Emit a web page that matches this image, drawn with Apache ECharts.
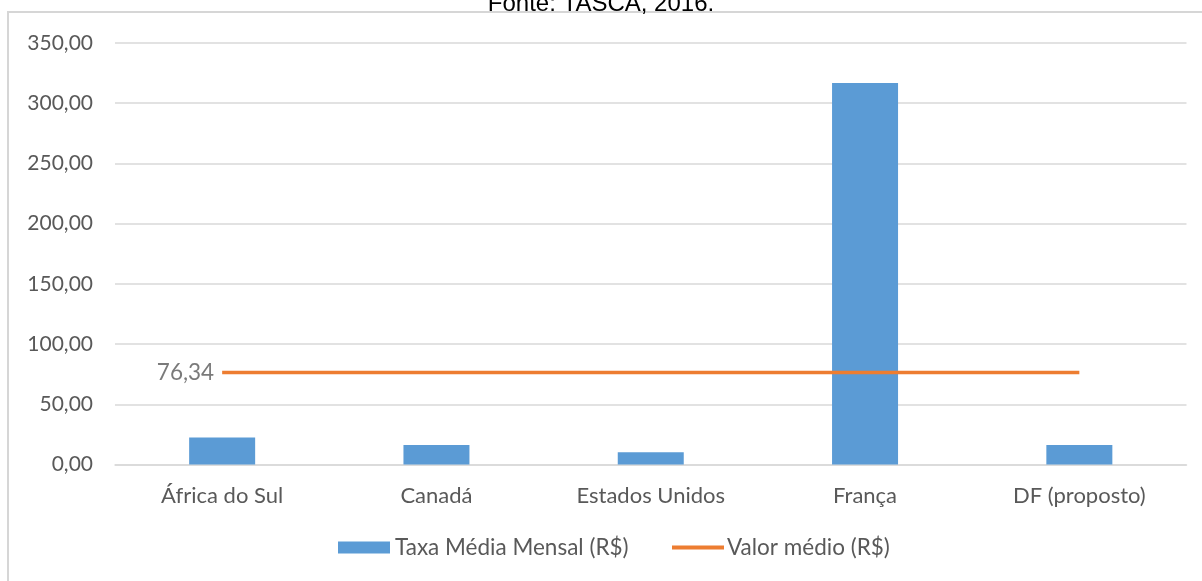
<!DOCTYPE html>
<html>
<head>
<meta charset="utf-8">
<script src="https://cdn.jsdelivr.net/npm/echarts@6/dist/echarts.min.js"></script>
<style>
  html, body { margin: 0; padding: 0; background: #ffffff; }
  #chart { width: 1202px; height: 581px; }
</style>
</head>
<body>
<div id="chart"></div>
<script>
// Monthly fee by country (R$) and the overall mean value
const categories = ['África do Sul', 'Canadá', 'Estados Unidos', 'França', 'DF (proposto)'];
const taxaMedia = [22.5, 16.2, 10.1, 316.7, 16.2];
const valorMedio = [76.34, 76.34, 76.34, 76.34, 76.34];
const yTicks = [0, 50, 100, 150, 200, 250, 300, 350];

const fmt = v => v.toFixed(2).replace('.', ',');
const labelFont = 'Lato, "Open Sans", sans-serif';
const textColor = '#595959';
const barColor = '#5B9BD5';
const lineColor = '#ED7D31';

const chart = echarts.init(document.getElementById('chart'), null, { renderer: 'canvas' });

chart.setOption({
  animation: false,
  backgroundColor: '#ffffff',
  graphic: [
    {
      type: 'rect',
      shape: { x: 8, y: 12, width: 1210, height: 600 },
      style: { fill: 'none', stroke: '#d6d6d6', lineWidth: 2 },
      z: 0
    },
    {
      type: 'text',
      left: 'center',
      top: -8,
      style: {
        text: 'Fonte: TASCA, 2016.',
        font: '24px "Liberation Sans", Arial, sans-serif',
        fill: '#000000'
      }
    }
  ],
  grid: { left: 115, right: 15.5, top: 43, bottom: 116.5, containLabel: false },
  legend: [
    {
      bottom: 17,
      left: 333,
      itemWidth: 52,
      itemHeight: 12,
      textStyle: { color: textColor, fontSize: 22.5, fontFamily: labelFont },
      data: [{ name: 'Taxa Média Mensal (R$)', icon: 'rect' }]
    },
    {
      bottom: 17,
      left: 667,
      itemWidth: 52,
      itemHeight: 4,
      textStyle: { color: textColor, fontSize: 22.5, fontFamily: labelFont, padding: [0, 0, 0, -2] },
      data: [{ name: 'Valor médio (R$)', icon: 'rect' }]
    }
  ],
  xAxis: {
    type: 'category',
    data: categories,
    boundaryGap: true,
    axisLine: { show: true, lineStyle: { color: '#d9d9d9', width: 1.5 } },
    axisTick: { show: false },
    axisLabel: { color: textColor, fontSize: 22, fontFamily: labelFont, margin: 20 }
  },
  yAxis: {
    type: 'value',
    min: yTicks[0],
    max: yTicks[yTicks.length - 1],
    interval: 50,
    axisLine: { show: false },
    axisTick: { show: false },
    splitLine: { lineStyle: { color: '#d9d9d9', width: 1.5 } },
    axisLabel: { color: textColor, fontSize: 21, fontFamily: labelFont, margin: 22, formatter: v => fmt(v) }
  },
  series: [
    {
      name: 'Taxa Média Mensal (R$)',
      type: 'bar',
      data: taxaMedia,
      barWidth: 66,
      itemStyle: { color: barColor },
      z: 2
    },
    {
      name: 'Valor médio (R$)',
      type: 'line',
      data: valorMedio,
      symbol: 'none',
      lineStyle: { color: lineColor, width: 3.5 },
      itemStyle: { color: lineColor },
      z: 3
    },
    {
      // value label for the mean line, anchored at its first point
      type: 'scatter',
      data: [[0, valorMedio[0]]],
      symbolSize: 0,
      silent: true,
      label: {
        show: true,
        position: 'left',
        distance: 8,
        formatter: p => fmt(p.value[1]),
        color: textColor,
        fontSize: 22.5,
        fontFamily: labelFont
      },
      z: 4
    }
  ]
});
</script>
</body>
</html>
